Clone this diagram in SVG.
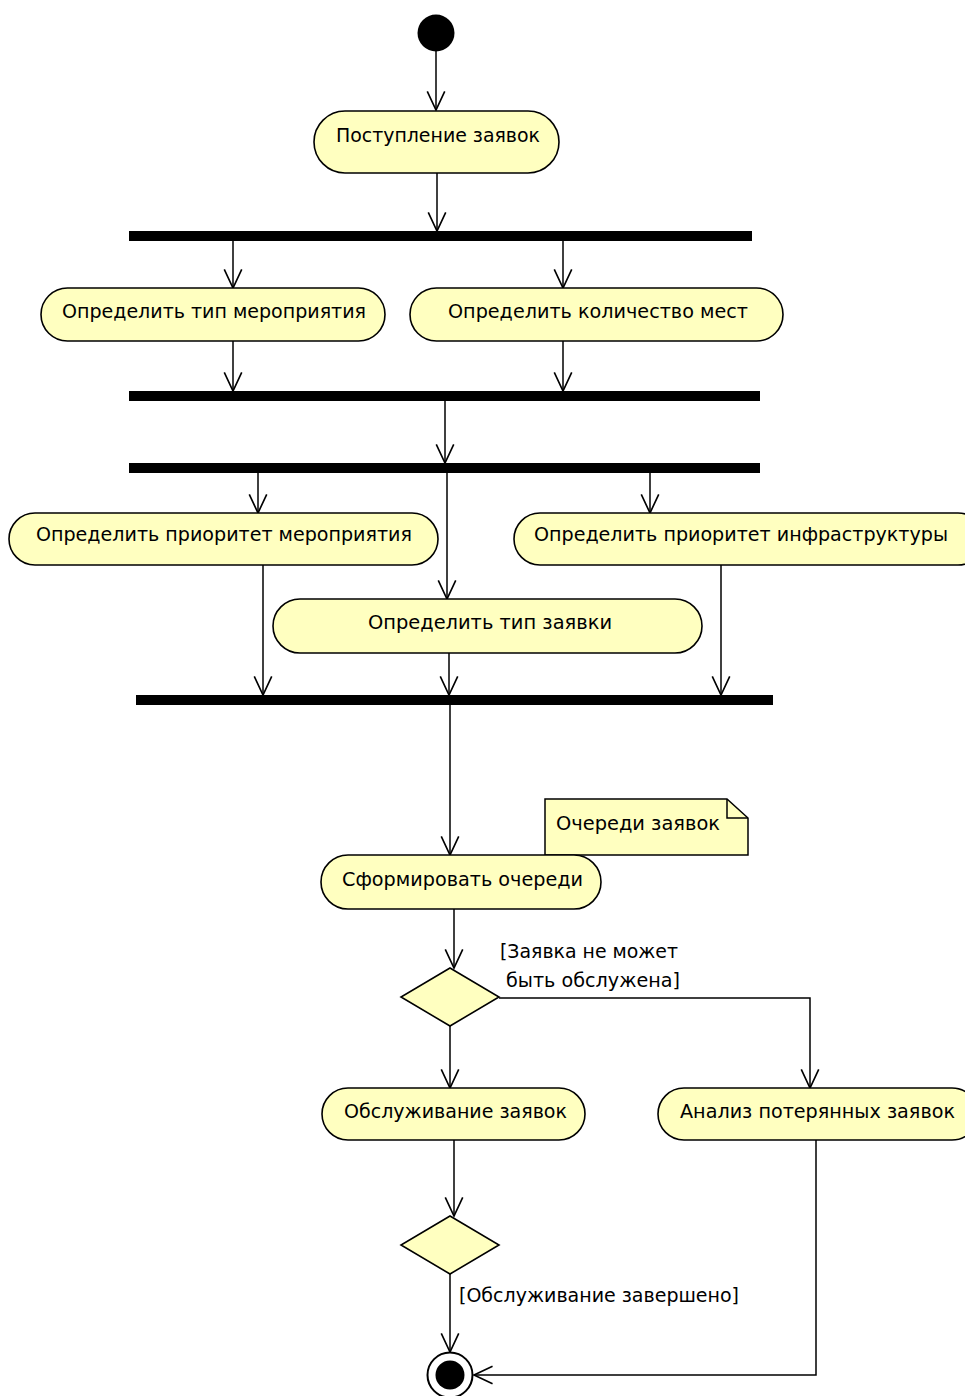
<svg xmlns="http://www.w3.org/2000/svg" width="965" height="1396" viewBox="0 0 965 1396">
<style>
.act{fill:#FFFFC0;stroke:#000;stroke-width:1.6}
.bar{fill:#000}
.t{font-family:"DejaVu Sans","Liberation Sans",Arial,sans-serif;font-size:20px;fill:#000}
.c{fill:none;stroke:#000;stroke-width:1.5}
</style>
<defs>
<marker id="ah" markerUnits="userSpaceOnUse" markerWidth="24" markerHeight="24" viewBox="-20 -10 22 20" refX="0" refY="0" orient="auto">
<path d="M-17,-8 L0,0 L-17,8" fill="none" stroke="#000" stroke-width="1.5"/>
</marker>
</defs>
<rect width="965" height="1396" fill="#fff"/>
<g id="connectors">
<line class="c" x1="436" y1="51" x2="436" y2="110" marker-end="url(#ah)"/>
<line class="c" x1="437" y1="173" x2="437" y2="231" marker-end="url(#ah)"/>
<line class="c" x1="233" y1="241" x2="233" y2="288" marker-end="url(#ah)"/>
<line class="c" x1="563" y1="241" x2="563" y2="288" marker-end="url(#ah)"/>
<line class="c" x1="233" y1="341" x2="233" y2="391" marker-end="url(#ah)"/>
<line class="c" x1="563" y1="341" x2="563" y2="391" marker-end="url(#ah)"/>
<line class="c" x1="445" y1="401" x2="445" y2="463" marker-end="url(#ah)"/>
<line class="c" x1="258" y1="473" x2="258" y2="513" marker-end="url(#ah)"/>
<line class="c" x1="650" y1="473" x2="650" y2="513" marker-end="url(#ah)"/>
<line class="c" x1="447" y1="473" x2="447" y2="599" marker-end="url(#ah)"/>
<line class="c" x1="263" y1="565" x2="263" y2="695" marker-end="url(#ah)"/>
<line class="c" x1="449" y1="653" x2="449" y2="695" marker-end="url(#ah)"/>
<line class="c" x1="721" y1="565" x2="721" y2="695" marker-end="url(#ah)"/>
<line class="c" x1="450" y1="705" x2="450" y2="855" marker-end="url(#ah)"/>
<line class="c" x1="454" y1="909" x2="454" y2="968" marker-end="url(#ah)"/>
<polyline class="c" points="499,998 810,998 810,1088" marker-end="url(#ah)"/>
<line class="c" x1="450" y1="1026" x2="450" y2="1088" marker-end="url(#ah)"/>
<line class="c" x1="454" y1="1140" x2="454" y2="1216" marker-end="url(#ah)"/>
<line class="c" x1="450" y1="1274" x2="450" y2="1352" marker-end="url(#ah)"/>
<polyline class="c" points="816,1140 816,1375 474,1375" marker-end="url(#ah)"/>
<text class="t" x="500" y="958" textLength="178" lengthAdjust="spacingAndGlyphs">[Заявка не может</text>
<text class="t" x="506" y="987" textLength="174" lengthAdjust="spacingAndGlyphs">быть обслужена]</text>
<text class="t" x="459" y="1302" textLength="280" lengthAdjust="spacingAndGlyphs">[Обслуживание завершено]</text>
</g>
<g id="start"><circle cx="436" cy="33" r="18.5" fill="#000"/></g>
<g id="n1"><rect class="act" x="314" y="111" width="245" height="62" rx="31"/><text class="t" x="336" y="142" textLength="204" lengthAdjust="spacingAndGlyphs">Поступление заявок</text></g>
<g id="fork1"><rect class="bar" x="129" y="231" width="623" height="10"/></g>
<g id="n2"><rect class="act" x="41" y="288" width="344" height="53" rx="26.5"/><text class="t" x="62" y="318" textLength="304" lengthAdjust="spacingAndGlyphs">Определить тип мероприятия</text></g>
<g id="n3"><rect class="act" x="410" y="288" width="373" height="53" rx="26.5"/><text class="t" x="448" y="318" textLength="300" lengthAdjust="spacingAndGlyphs">Определить количество мест</text></g>
<g id="join1"><rect class="bar" x="129" y="391" width="631" height="10"/></g>
<g id="fork2"><rect class="bar" x="129" y="463" width="631" height="10"/></g>
<g id="n4"><rect class="act" x="9" y="513" width="429" height="52" rx="26"/><text class="t" x="36" y="541" textLength="376" lengthAdjust="spacingAndGlyphs">Определить приоритет мероприятия</text></g>
<g id="n5"><rect class="act" x="514" y="513" width="470" height="52" rx="26"/><text class="t" x="534" y="541" textLength="414" lengthAdjust="spacingAndGlyphs">Определить приоритет инфраструктуры</text></g>
<g id="n6"><rect class="act" x="273" y="599" width="429" height="54" rx="27"/><text class="t" x="368" y="629" textLength="244" lengthAdjust="spacingAndGlyphs">Определить тип заявки</text></g>
<g id="join2"><rect class="bar" x="136" y="695" width="637" height="10"/></g>
<g id="note"><path d="M545,855 L545,799 L727,799 L748,818 L748,855 Z" fill="#FFFFC0" stroke="#000" stroke-width="1.5"/><polyline points="727,799 727,818 748,818" fill="none" stroke="#000" stroke-width="1.5"/><text class="t" x="556" y="830" textLength="164" lengthAdjust="spacingAndGlyphs">Очереди заявок</text></g>
<g id="n7"><rect class="act" x="321" y="855" width="280" height="54" rx="27"/><text class="t" x="342" y="886" textLength="241" lengthAdjust="spacingAndGlyphs">Сформировать очереди</text></g>
<g id="d1"><polygon class="act" points="450,968 499,997 450,1026 401,997"/></g>
<g id="n8"><rect class="act" x="322" y="1088" width="263" height="52" rx="26"/><text class="t" x="344" y="1118" textLength="223" lengthAdjust="spacingAndGlyphs">Обслуживание заявок</text></g>
<g id="n9"><rect class="act" x="658" y="1088" width="320" height="52" rx="26"/><text class="t" x="680" y="1118" textLength="275" lengthAdjust="spacingAndGlyphs">Анализ потерянных заявок</text></g>
<g id="d2"><polygon class="act" points="450,1216 499,1245 450,1274 401,1245"/></g>
<g id="end"><circle cx="450" cy="1375" r="22.5" fill="#fff" stroke="#000" stroke-width="2"/><circle cx="450" cy="1375" r="14.5" fill="#000"/></g>
</svg>
